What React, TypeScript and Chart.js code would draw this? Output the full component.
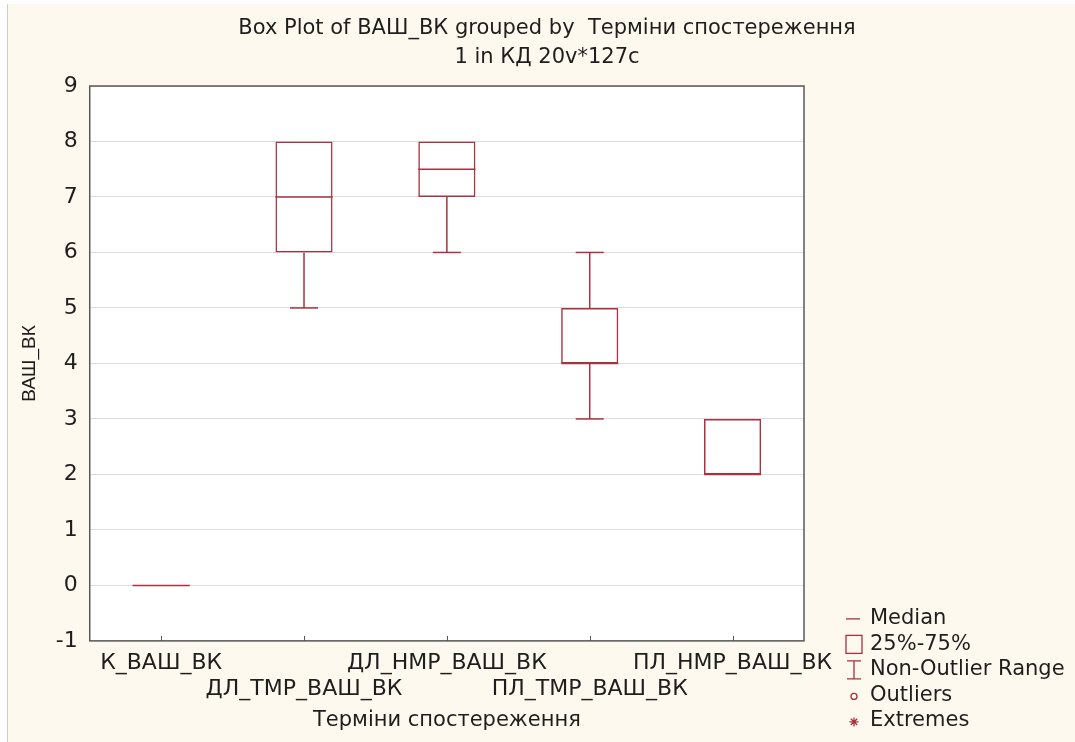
import React, { useEffect, useRef } from "react";
import { Chart, registerables } from "chart.js";

Chart.register(...registerables);

const categories = ["К_ВАШ_ВК", "ДЛ_ТМР_ВАШ_ВК", "ДЛ_НМР_ВАШ_ВК", "ПЛ_ТМР_ВАШ_ВК", "ПЛ_НМР_ВАШ_ВК"];
const mins = [0, 5, 6, 3, 2];
const q1s = [0, 6, 7, 4, 2];
const medians = [0, 7, 7.5, 4, 2];
const q3s = [0, 8, 8, 5, 3];
const maxs = [0, 8, 8, 6, 3];
const yMin = -1;
const yMax = 9;
const yStep = 1;
const titleLines = ["Box Plot of ВАШ_ВК grouped by  Терміни спостереження", "1 in КД 20v*127c"];
const xTitle = "Терміни спостереження";
const yTitle = "ВАШ_ВК";
const legendLabels = ["Median", "25%-75%", "Non-Outlier Range", "Outliers", "Extremes"];

const WIDE = "'DejaVu Sans', 'Liberation Sans', Arial, sans-serif";
const NARROW = "'Liberation Sans', Arial, sans-serif";
const RED = "#A8323F";
const TEXT = "#1e1e1e";
const CREAM = "#FDF9EE";
const AXIS = "#585858";
const GRID = "#dcdcdc";

const boxPlugin = {
  id: "boxExtras",
  beforeDraw(chart: any) {
    const { ctx, chartArea: a, width, height } = chart;
    ctx.save();
    ctx.fillStyle = "#ffffff";
    ctx.fillRect(0, 0, width, height);
    ctx.fillStyle = CREAM;
    ctx.fillRect(7, 4, width - 7, height - 4);
    ctx.strokeStyle = "#cfcfcf";
    ctx.lineWidth = 1;
    ctx.beginPath();
    ctx.moveTo(7.5, 4);
    ctx.lineTo(7.5, height);
    ctx.stroke();
    ctx.fillStyle = "#ffffff";
    ctx.fillRect(a.left, a.top, a.right - a.left, a.bottom - a.top);
    ctx.restore();
  },
  afterDatasetsDraw(chart: any) {
    const { ctx, chartArea: a } = chart;
    const xs = chart.scales.x;
    const ys = chart.scales.y;
    const meta = chart.getDatasetMeta(0);
    ctx.save();
    ctx.strokeStyle = RED;
    ctx.lineWidth = 1.5;
    const cap = 14;
    const line = (x1: number, y1: number, x2: number, y2: number) => {
      ctx.beginPath();
      ctx.moveTo(x1, y1);
      ctx.lineTo(x2, y2);
      ctx.stroke();
    };
    categories.forEach((_, i) => {
      const x = xs.getPixelForValue(i);
      const bw = meta.data[i] ? meta.data[i].width : 56;
      if (mins[i] < q1s[i]) {
        const y = ys.getPixelForValue(mins[i]);
        line(x, ys.getPixelForValue(q1s[i]), x, y);
        line(x - cap, y, x + cap, y);
      }
      if (maxs[i] > q3s[i]) {
        const y = ys.getPixelForValue(maxs[i]);
        line(x, ys.getPixelForValue(q3s[i]), x, y);
        line(x - cap, y, x + cap, y);
      }
      const ym = ys.getPixelForValue(medians[i]);
      line(x - bw / 2, ym, x + bw / 2, ym);
    });
    ctx.strokeStyle = AXIS;
    ctx.lineWidth = 1.5;
    ctx.strokeRect(a.left, a.top, a.right - a.left, a.bottom - a.top);
    ctx.lineWidth = 1;
    categories.forEach((_, i) => {
      const x = Math.round(xs.getPixelForValue(i)) + 0.5;
      line(x, a.bottom, x, a.bottom - 5);
    });
    ctx.restore();
  },
  afterDraw(chart: any) {
    const { ctx, chartArea: a } = chart;
    ctx.save();
    // title
    ctx.fillStyle = TEXT;
    ctx.textAlign = "center";
    ctx.textBaseline = "middle";
    ctx.font = `21px ${WIDE}`;
    titleLines.forEach((t, i) => ctx.fillText(t, 547, 29 + i * 29));
    // legend
    const cx = a.right + 50;
    const y0 = a.bottom - 22;
    const step = 25.5;
    ctx.font = `21px ${WIDE}`;
    ctx.textAlign = "left";
    legendLabels.forEach((t, i) => ctx.fillText(t, a.right + 66, y0 + i * step));
    ctx.strokeStyle = RED;
    ctx.lineWidth = 1.3;
    let y = y0;
    ctx.beginPath();
    ctx.moveTo(cx - 8, y);
    ctx.lineTo(cx + 6, y);
    ctx.stroke();
    y = y0 + step;
    ctx.strokeRect(cx - 8, y - 9, 16, 18);
    y = y0 + 2 * step;
    ctx.beginPath();
    ctx.moveTo(cx - 7, y - 9);
    ctx.lineTo(cx + 7, y - 9);
    ctx.moveTo(cx, y - 9);
    ctx.lineTo(cx, y + 9);
    ctx.moveTo(cx - 7, y + 9);
    ctx.lineTo(cx + 7, y + 9);
    ctx.stroke();
    y = y0 + 3 * step;
    ctx.beginPath();
    ctx.arc(cx, y + 1, 3, 0, Math.PI * 2);
    ctx.stroke();
    y = y0 + 4 * step + 1;
    ctx.beginPath();
    for (let k = 0; k < 4; k++) {
      const ang = (k * Math.PI) / 4;
      ctx.moveTo(cx - 4.5 * Math.cos(ang), y - 4.5 * Math.sin(ang));
      ctx.lineTo(cx + 4.5 * Math.cos(ang), y + 4.5 * Math.sin(ang));
    }
    ctx.stroke();
    ctx.restore();
  },
};

export default function App() {
  const ref = useRef<HTMLCanvasElement | null>(null);
  useEffect(() => {
    if (!ref.current) return;
    const chart = new Chart(ref.current, {
      type: "bar",
      data: {
        labels: categories,
        datasets: [
          {
            data: categories.map((_, i) => [q1s[i], q3s[i]]) as any,
            backgroundColor: "rgba(255,255,255,0)",
            borderColor: RED,
            borderWidth: 1.5,
            borderSkipped: false,
            barPercentage: 0.4,
            categoryPercentage: 1,
          },
        ],
      },
      options: {
        animation: false,
        responsive: false,
        layout: { padding: { left: 14, right: 271, top: 86, bottom: 0 } },
        plugins: {
          legend: { display: false },
          tooltip: { enabled: false },
          title: { display: false },
        },
        scales: {
          x: {
            grid: { display: false, drawTicks: false },
            border: { display: false },
            ticks: {
              color: TEXT,
              autoSkip: false,
              maxRotation: 0,
              padding: 9,
              font: { family: WIDE, size: 22, lineHeight: 1.18 },
              callback: (_v: any, i: number) => (i % 2 === 0 ? [categories[i]] : ["", categories[i]]),
            },
            title: {
              display: true,
              text: xTitle,
              color: TEXT,
              font: { family: WIDE, size: 21, lineHeight: 1.2 },
              padding: { top: -3, bottom: 9 },
            },
          },
          y: {
            min: yMin,
            max: yMax,
            grid: { color: GRID, drawTicks: false },
            border: { display: false },
            ticks: {
              stepSize: yStep,
              color: TEXT,
              padding: 12,
              font: { family: WIDE, size: 22 },
            },
            title: {
              display: true,
              text: yTitle,
              color: TEXT,
              font: { family: NARROW, size: 19, lineHeight: 1.2 },
              padding: { top: 4, bottom: 3 },
            },
          },
        },
      },
      plugins: [boxPlugin],
    });
    return () => chart.destroy();
  }, []);
  return (
    <div style={{ position: "absolute", left: 0, top: 0, width: 1075, height: 742 }}>
      <canvas ref={ref} width={1075} height={742} style={{ width: 1075, height: 742, display: "block" }} />
    </div>
  );
}
